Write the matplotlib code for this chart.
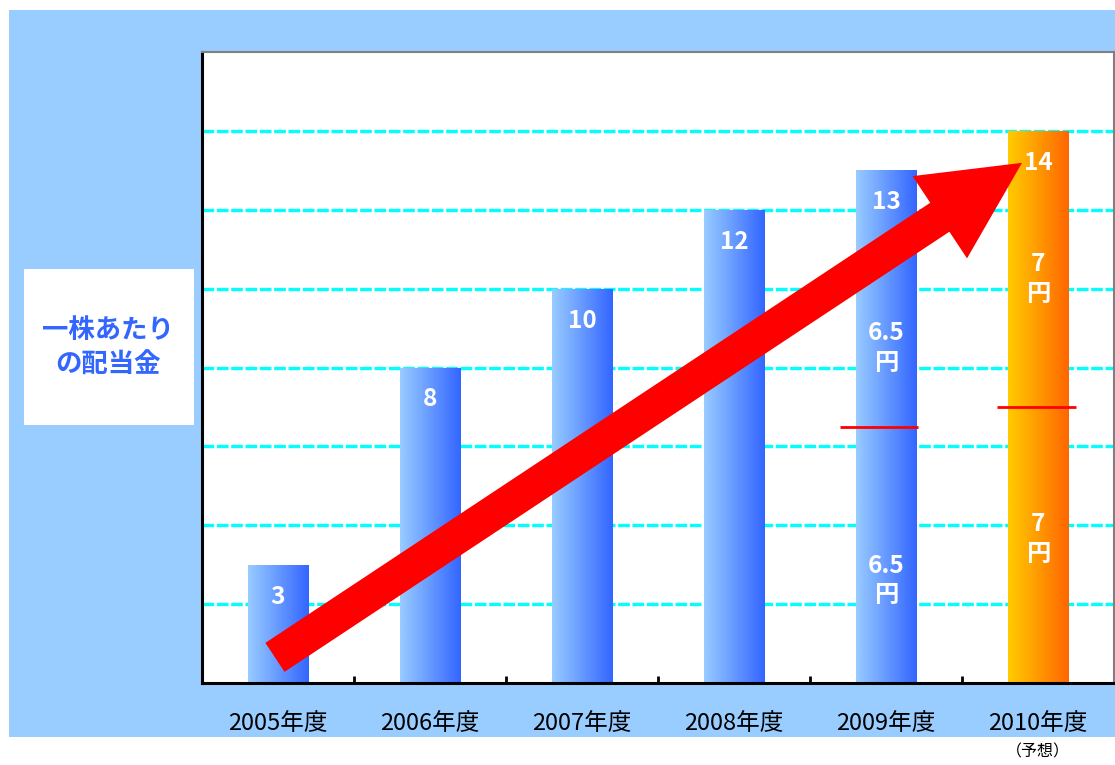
import numpy as np
import matplotlib
matplotlib.use("Agg")
import matplotlib.pyplot as plt
from matplotlib.patches import Rectangle, FancyArrowPatch, ArrowStyle
from matplotlib.colors import LinearSegmentedColormap

plt.rcParams['font.family'] = ['Noto Sans CJK JP', 'DejaVu Sans']

# ---- data ----
categories = ['2005年度', '2006年度', '2007年度', '2008年度', '2009年度', '2010年度']
dividends = [3, 8, 10, 12, 13, 14]
forecast = [False, False, False, False, False, True]
interim = {4: 6.5, 5: 7}          # interim dividend (lower part) for 2009 / 2010
year_end = {4: 6.5, 5: 7}         # year-end dividend (upper part)
seg_labels = {4: ('6.5\n円', '6.5\n円'), 5: ('7\n円', '7\n円')}
ylabel_text = '一株あたり\nの配当金'
forecast_note = '（予想）'

W, H = 1115, 765
fig = plt.figure(figsize=(W / 100, H / 100), dpi=100)
fig.patch.set_facecolor('white')

# light blue background panel
fig.patches.append(Rectangle((9 / W, (H - 737) / H), 1, (737 - 10) / H,
                             transform=fig.transFigure, facecolor='#99CCFF',
                             edgecolor='none', zorder=-10))
# y-label white box
fig.patches.append(Rectangle((24 / W, (H - 425) / H), 170 / W, 156 / H,
                             transform=fig.transFigure, facecolor='white',
                             edgecolor='none', zorder=-5))
fig.text(108 / W, (H - 348) / H, ylabel_text, ha='center', va='center',
         multialignment='center', fontsize=19, fontweight='bold',
         color='#3366FF', linespacing=1.4)

ax = fig.add_axes([202 / W, (H - 683) / H, (1114 - 202) / W, (683 - 52) / H])
ax.set_facecolor('white')
x = np.arange(len(categories))

# gridlines
ax.set_yticks(np.arange(2, 16, 2))
ax.yaxis.grid(True, color='#00FFFF', linewidth=2.4, linestyle=(0, (3.5, 0.8)))
ax.set_axisbelow(True)
ax.tick_params(axis='y', length=0, labelleft=False)

# bars with gradient fill
blue_cmap = LinearSegmentedColormap.from_list('b', ['#99CCFF', '#3366FF'])
orange_cmap = LinearSegmentedColormap.from_list('o', ['#FFCC00', '#FF6600'])
grad = np.linspace(0, 1, 256).reshape(1, -1)
bars = ax.bar(x, dividends, width=0.4, color='none', edgecolor='none', zorder=2)
for i, b in enumerate(bars):
    x0, y0 = b.get_x(), b.get_y()
    im = ax.imshow(grad, extent=[x0, x0 + b.get_width(), y0, y0 + b.get_height()],
                   cmap=orange_cmap if forecast[i] else blue_cmap,
                   aspect='auto', interpolation='bicubic', zorder=2)
    im.set_clip_path(b)
ax.set_xlim(-0.5, len(categories) - 0.5)
ax.set_ylim(0, 16)

# top value labels
for i, v in enumerate(dividends):
    ax.annotate(str(v), (x[i], v), xytext=(0, -23), textcoords='offset points',
                ha='center', va='center', color='white', fontsize=17.5,
                fontweight='bold', zorder=6)

# split lines and segment labels for 2009/2010
split_ext = {4: (-0.30, 0.21), 5: (-0.27, 0.25)}
seg_pos = {4: (2.6, 8.5), 5: (3.65, 10.25)}
for i in interim:
    a, b_ = split_ext[i]
    ax.plot([x[i] + a, x[i] + b_], [interim[i], interim[i]], color='red',
            linewidth=2, zorder=4, solid_capstyle='butt')
    lo, hi = seg_pos[i]
    for yy, lab in zip((lo, hi), seg_labels[i]):
        ax.text(x[i], yy, lab, ha='center', va='center', color='white',
                fontsize=17.5, fontweight='bold', linespacing=1.3, zorder=6)

# big red trend arrow
arrow = FancyArrowPatch((-0.02, 0.65), (4.895, 13.19),
                        arrowstyle=ArrowStyle.Simple(head_length=71, head_width=71,
                                                     tail_width=25),
                        mutation_scale=1, shrinkA=0, shrinkB=0,
                        facecolor='red', edgecolor='none', zorder=5)
ax.add_patch(arrow)

# axes / spines
for s in ['left', 'bottom']:
    ax.spines[s].set_color('black')
    ax.spines[s].set_linewidth(2.2)
for s in ['top', 'right']:
    ax.spines[s].set_color('#808080')
    ax.spines[s].set_linewidth(1.5)

ax.set_xticks(x)
ax.set_xticklabels(categories, fontsize=17)
ax.tick_params(axis='x', which='major', length=0, pad=21)
ax.set_xticks(x[:-1] + 0.5, minor=True)
ax.tick_params(axis='x', which='minor', direction='in', length=5, width=2,
               color='black')

ax.text(x[-1], -0.109, forecast_note, transform=ax.get_xaxis_transform(),
        ha='center', va='center', fontsize=11.5, color='black')

fig.savefig('out.png', dpi=100, facecolor=fig.get_facecolor())
